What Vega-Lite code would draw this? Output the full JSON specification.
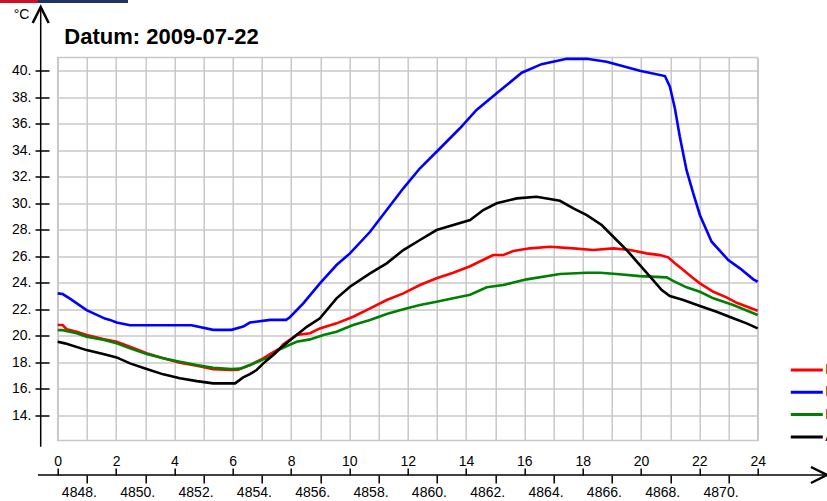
{
  "$schema": "https://vega.github.io/schema/vega-lite/v6.json",
  "width": 700,
  "height": 383,
  "autosize": {"type": "none"},
  "padding": {"left": 57.7, "top": 57.5, "right": 69.3, "bottom": 60.5},
  "background": "white",
  "config": {
    "font": "Liberation Sans",
    "view": {"stroke": "#c8c8c8", "strokeWidth": 1.5}
  },
  "title": {
    "text": "Datum: 2009-07-22",
    "anchor": "start",
    "frame": "group",
    "font": "Liberation Sans",
    "fontSize": 22,
    "fontWeight": "bold",
    "color": "#000000",
    "baseline": "alphabetic",
    "offset": 0,
    "dx": 6.6,
    "dy": 66
  },
  "datasets": {
    "temps": [
      {"s": "Büro", "h": 0, "t": 20.81}, {"s": "Büro", "h": 0.17, "t": 20.81}, {"s": "Büro", "h": 0.31, "t": 20.49},
      {"s": "Büro", "h": 0.65, "t": 20.31}, {"s": "Büro", "h": 0.99, "t": 20.06}, {"s": "Büro", "h": 1.56, "t": 19.75},
      {"s": "Büro", "h": 2.02, "t": 19.55}, {"s": "Büro", "h": 2.48, "t": 19.17}, {"s": "Büro", "h": 3.05, "t": 18.68},
      {"s": "Büro", "h": 3.62, "t": 18.3}, {"s": "Büro", "h": 4.19, "t": 17.97}, {"s": "Büro", "h": 4.77, "t": 17.74},
      {"s": "Büro", "h": 5.33, "t": 17.48}, {"s": "Büro", "h": 5.96, "t": 17.42}, {"s": "Büro", "h": 6.19, "t": 17.45},
      {"s": "Büro", "h": 6.59, "t": 17.79}, {"s": "Büro", "h": 7.05, "t": 18.3}, {"s": "Büro", "h": 7.28, "t": 18.62},
      {"s": "Büro", "h": 7.62, "t": 19.05}, {"s": "Büro", "h": 7.73, "t": 19.35}, {"s": "Büro", "h": 8.19, "t": 20.06},
      {"s": "Büro", "h": 8.65, "t": 20.19}, {"s": "Büro", "h": 8.99, "t": 20.56}, {"s": "Büro", "h": 9.56, "t": 20.94},
      {"s": "Büro", "h": 10.13, "t": 21.44}, {"s": "Büro", "h": 10.71, "t": 22.07}, {"s": "Büro", "h": 11.28, "t": 22.7},
      {"s": "Büro", "h": 11.85, "t": 23.2}, {"s": "Büro", "h": 12.42, "t": 23.83}, {"s": "Büro", "h": 12.99, "t": 24.34},
      {"s": "Büro", "h": 13.56, "t": 24.76}, {"s": "Büro", "h": 14.14, "t": 25.25}, {"s": "Büro", "h": 14.93, "t": 26.1},
      {"s": "Büro", "h": 15.28, "t": 26.1}, {"s": "Büro", "h": 15.62, "t": 26.4}, {"s": "Büro", "h": 16.19, "t": 26.6},
      {"s": "Büro", "h": 16.88, "t": 26.72}, {"s": "Büro", "h": 17.68, "t": 26.6}, {"s": "Büro", "h": 18.36, "t": 26.47},
      {"s": "Büro", "h": 19.05, "t": 26.6}, {"s": "Büro", "h": 19.63, "t": 26.47}, {"s": "Büro", "h": 20.19, "t": 26.22},
      {"s": "Büro", "h": 20.65, "t": 26.09}, {"s": "Büro", "h": 20.93, "t": 25.92}, {"s": "Büro", "h": 21.16, "t": 25.47},
      {"s": "Büro", "h": 21.45, "t": 24.96}, {"s": "Büro", "h": 21.79, "t": 24.34}, {"s": "Büro", "h": 22.02, "t": 23.96},
      {"s": "Büro", "h": 22.48, "t": 23.32}, {"s": "Büro", "h": 22.93, "t": 22.9}, {"s": "Büro", "h": 23.28, "t": 22.49},
      {"s": "Büro", "h": 24, "t": 21.89},

      {"s": "Dachboden", "h": 0, "t": 23.2}, {"s": "Dachboden", "h": 0.17, "t": 23.15}, {"s": "Dachboden", "h": 0.42, "t": 22.8},
      {"s": "Dachboden", "h": 0.99, "t": 21.94}, {"s": "Dachboden", "h": 1.62, "t": 21.3}, {"s": "Dachboden", "h": 1.79, "t": 21.2},
      {"s": "Dachboden", "h": 2.02, "t": 21.0}, {"s": "Dachboden", "h": 2.48, "t": 20.8}, {"s": "Dachboden", "h": 4.59, "t": 20.8},
      {"s": "Dachboden", "h": 5.33, "t": 20.45}, {"s": "Dachboden", "h": 5.96, "t": 20.45}, {"s": "Dachboden", "h": 6.36, "t": 20.7},
      {"s": "Dachboden", "h": 6.59, "t": 21.0}, {"s": "Dachboden", "h": 7.28, "t": 21.2}, {"s": "Dachboden", "h": 7.83, "t": 21.2},
      {"s": "Dachboden", "h": 7.96, "t": 21.4}, {"s": "Dachboden", "h": 8.42, "t": 22.45}, {"s": "Dachboden", "h": 8.99, "t": 23.96},
      {"s": "Dachboden", "h": 9.56, "t": 25.34}, {"s": "Dachboden", "h": 10.02, "t": 26.22}, {"s": "Dachboden", "h": 10.71, "t": 27.85},
      {"s": "Dachboden", "h": 11.28, "t": 29.49}, {"s": "Dachboden", "h": 11.85, "t": 31.13}, {"s": "Dachboden", "h": 12.42, "t": 32.64},
      {"s": "Dachboden", "h": 13.05, "t": 34.02}, {"s": "Dachboden", "h": 13.79, "t": 35.66}, {"s": "Dachboden", "h": 14.36, "t": 37.04},
      {"s": "Dachboden", "h": 15.05, "t": 38.3}, {"s": "Dachboden", "h": 15.91, "t": 39.85}, {"s": "Dachboden", "h": 16.59, "t": 40.5},
      {"s": "Dachboden", "h": 17.45, "t": 40.9}, {"s": "Dachboden", "h": 18.14, "t": 40.9}, {"s": "Dachboden", "h": 18.82, "t": 40.68},
      {"s": "Dachboden", "h": 19.96, "t": 40.0}, {"s": "Dachboden", "h": 20.82, "t": 39.6}, {"s": "Dachboden", "h": 20.99, "t": 38.8},
      {"s": "Dachboden", "h": 21.16, "t": 37.17}, {"s": "Dachboden", "h": 21.33, "t": 35.02}, {"s": "Dachboden", "h": 21.56, "t": 32.5},
      {"s": "Dachboden", "h": 21.79, "t": 30.75}, {"s": "Dachboden", "h": 22.02, "t": 29.1}, {"s": "Dachboden", "h": 22.42, "t": 27.1},
      {"s": "Dachboden", "h": 22.99, "t": 25.72}, {"s": "Dachboden", "h": 23.39, "t": 25.09}, {"s": "Dachboden", "h": 23.85, "t": 24.26},
      {"s": "Dachboden", "h": 24, "t": 24.08},

      {"s": "Keller", "h": 0, "t": 20.43}, {"s": "Keller", "h": 0.17, "t": 20.43}, {"s": "Keller", "h": 0.65, "t": 20.2},
      {"s": "Keller", "h": 0.99, "t": 19.93}, {"s": "Keller", "h": 1.56, "t": 19.7}, {"s": "Keller", "h": 2.02, "t": 19.43},
      {"s": "Keller", "h": 2.48, "t": 19.05}, {"s": "Keller", "h": 3.05, "t": 18.62}, {"s": "Keller", "h": 3.62, "t": 18.3},
      {"s": "Keller", "h": 4.19, "t": 18.04}, {"s": "Keller", "h": 4.77, "t": 17.79}, {"s": "Keller", "h": 5.33, "t": 17.59},
      {"s": "Keller", "h": 5.96, "t": 17.49}, {"s": "Keller", "h": 6.25, "t": 17.52}, {"s": "Keller", "h": 6.59, "t": 17.79},
      {"s": "Keller", "h": 7.05, "t": 18.22}, {"s": "Keller", "h": 7.28, "t": 18.4}, {"s": "Keller", "h": 7.62, "t": 18.98},
      {"s": "Keller", "h": 7.73, "t": 19.1}, {"s": "Keller", "h": 8.19, "t": 19.55}, {"s": "Keller", "h": 8.65, "t": 19.73},
      {"s": "Keller", "h": 9.11, "t": 20.06}, {"s": "Keller", "h": 9.56, "t": 20.31}, {"s": "Keller", "h": 10.13, "t": 20.81},
      {"s": "Keller", "h": 10.71, "t": 21.19}, {"s": "Keller", "h": 11.28, "t": 21.64}, {"s": "Keller", "h": 11.85, "t": 22.0},
      {"s": "Keller", "h": 12.42, "t": 22.32}, {"s": "Keller", "h": 12.99, "t": 22.57}, {"s": "Keller", "h": 13.56, "t": 22.83},
      {"s": "Keller", "h": 14.14, "t": 23.1}, {"s": "Keller", "h": 14.71, "t": 23.66}, {"s": "Keller", "h": 15.28, "t": 23.83},
      {"s": "Keller", "h": 16.08, "t": 24.26}, {"s": "Keller", "h": 17.22, "t": 24.66}, {"s": "Keller", "h": 18.14, "t": 24.76},
      {"s": "Keller", "h": 18.59, "t": 24.76}, {"s": "Keller", "h": 19.16, "t": 24.66}, {"s": "Keller", "h": 19.96, "t": 24.5},
      {"s": "Keller", "h": 20.88, "t": 24.41}, {"s": "Keller", "h": 21.1, "t": 24.15}, {"s": "Keller", "h": 21.56, "t": 23.66},
      {"s": "Keller", "h": 22.02, "t": 23.32}, {"s": "Keller", "h": 22.48, "t": 22.83}, {"s": "Keller", "h": 23.16, "t": 22.32},
      {"s": "Keller", "h": 24, "t": 21.57},

      {"s": "Außen", "h": 0, "t": 19.55}, {"s": "Außen", "h": 0.25, "t": 19.43}, {"s": "Außen", "h": 0.99, "t": 18.92},
      {"s": "Außen", "h": 1.56, "t": 18.62}, {"s": "Außen", "h": 2.02, "t": 18.37}, {"s": "Außen", "h": 2.48, "t": 17.92},
      {"s": "Außen", "h": 3.05, "t": 17.49}, {"s": "Außen", "h": 3.62, "t": 17.09}, {"s": "Außen", "h": 4.19, "t": 16.79},
      {"s": "Außen", "h": 4.77, "t": 16.58}, {"s": "Außen", "h": 5.33, "t": 16.41}, {"s": "Außen", "h": 6.08, "t": 16.41},
      {"s": "Außen", "h": 6.36, "t": 16.86}, {"s": "Außen", "h": 6.59, "t": 17.11}, {"s": "Außen", "h": 6.82, "t": 17.42},
      {"s": "Außen", "h": 7.05, "t": 17.92}, {"s": "Außen", "h": 7.39, "t": 18.55}, {"s": "Außen", "h": 7.62, "t": 19.05},
      {"s": "Außen", "h": 8.19, "t": 20.06}, {"s": "Außen", "h": 8.54, "t": 20.68}, {"s": "Außen", "h": 8.99, "t": 21.32},
      {"s": "Außen", "h": 9.56, "t": 22.83}, {"s": "Außen", "h": 10.02, "t": 23.7}, {"s": "Außen", "h": 10.71, "t": 24.71},
      {"s": "Außen", "h": 11.28, "t": 25.47}, {"s": "Außen", "h": 11.85, "t": 26.47}, {"s": "Außen", "h": 12.42, "t": 27.23},
      {"s": "Außen", "h": 12.99, "t": 27.98}, {"s": "Außen", "h": 13.45, "t": 28.28}, {"s": "Außen", "h": 14.14, "t": 28.74},
      {"s": "Außen", "h": 14.59, "t": 29.49}, {"s": "Außen", "h": 15.05, "t": 30.0}, {"s": "Außen", "h": 15.74, "t": 30.37},
      {"s": "Außen", "h": 16.42, "t": 30.49}, {"s": "Außen", "h": 17.22, "t": 30.19}, {"s": "Außen", "h": 17.68, "t": 29.62},
      {"s": "Außen", "h": 18.14, "t": 29.11}, {"s": "Außen", "h": 18.65, "t": 28.36}, {"s": "Außen", "h": 19.16, "t": 27.23},
      {"s": "Außen", "h": 19.51, "t": 26.47}, {"s": "Außen", "h": 19.96, "t": 25.34}, {"s": "Außen", "h": 20.31, "t": 24.46},
      {"s": "Außen", "h": 20.71, "t": 23.45}, {"s": "Außen", "h": 20.99, "t": 23.0}, {"s": "Außen", "h": 21.45, "t": 22.7},
      {"s": "Außen", "h": 22.02, "t": 22.25}, {"s": "Außen", "h": 22.59, "t": 21.82}, {"s": "Außen", "h": 23.16, "t": 21.32},
      {"s": "Außen", "h": 23.62, "t": 20.94}, {"s": "Außen", "h": 24, "t": 20.56}
    ]
  },
  "layer": [
    {
      "data": {"name": "temps"},
      "mark": {"type": "line", "strokeWidth": 2.6},
      "encoding": {
        "x": {
          "field": "h", "type": "quantitative",
          "scale": {"domain": [0, 24], "nice": false, "zero": false},
          "axis": {"orient": "bottom", "values": [0,1,2,3,4,5,6,7,8,9,10,11,12,13,14,15,16,17,18,19,20,21,22,23,24],
                   "grid": true, "gridColor": "#c8c8c8", "gridWidth": 1.5,
                   "domain": false, "ticks": false, "labels": false, "title": null}
        },
        "y": {
          "field": "t", "type": "quantitative",
          "scale": {"domain": [12.1, 41], "nice": false, "zero": false},
          "axis": {"orient": "left", "values": [14,16,18,20,22,24,26,28,30,32,34,36,38,40],
                   "grid": true, "gridColor": "#c8c8c8", "gridWidth": 1.5,
                   "domain": false, "ticks": false, "labels": false, "title": null}
        },
        "color": {
          "field": "s", "type": "nominal",
          "scale": {"domain": ["Büro", "Dachboden", "Keller", "Außen"],
                    "range": ["#ff0000", "#0000ff", "#008000", "#000000"]},
          "legend": {
            "orient": "none", "legendX": 731.6, "legendY": 302.5,
            "title": null, "symbolType": "stroke", "symbolSize": 1024, "symbolStrokeWidth": 3,
            "labelFont": "Liberation Sans", "labelFontSize": 14, "labelColor": "#000000",
            "labelOffset": 1, "padding": 0, "rowPadding": 2.3, "clipHeight": 20
          }
        }
      }
    },
    {
      "data": {"values": [{}]},
      "mark": {"type": "rule", "color": "#000000", "strokeWidth": 1.5},
      "encoding": {
        "x": {"datum": -0.583, "type": "quantitative", "scale": {"domain": [0, 24], "nice": false, "zero": false}, "axis": null},
        "y": {
          "datum": 11.63, "type": "quantitative",
          "scale": {"domain": [12.1, 41], "nice": false, "zero": false},
          "axis": {"orient": "left", "offset": 8.7, "values": [14,16,18,20,22,24,26,28,30,32,34,36,38,40],
                   "domain": false, "grid": false, "tickSize": 14, "tickWidth": 1.5, "tickColor": "#000000",
                   "labelExpr": "datum.value + '.'", "labelFont": "Liberation Sans", "labelFontSize": 14,
                   "labelColor": "#000000", "labelPadding": 4, "labelFlush": false, "labelOverlap": false,
                   "title": "°C", "titleAngle": 0, "titleFont": "Liberation Sans", "titleFontSize": 14,
                   "titleFontWeight": "normal", "titleColor": "#000000", "titleAlign": "center",
                   "titleBaseline": "middle", "titleX": -28, "titleY": -43.5}
        },
        "y2": {"datum": 44.81}
      }
    },
    {
      "data": {"values": [{}]},
      "mark": {"type": "rule", "color": "#000000", "strokeWidth": 1.5},
      "encoding": {
        "x": {
          "datum": -0.675, "type": "quantitative",
          "scale": {"domain": [0, 24], "nice": false, "zero": false},
          "axis": {"orient": "top", "offset": -417.5, "values": [0,2,4,6,8,10,12,14,16,18,20,22,24],
                   "domain": false, "grid": false, "tickSize": 7, "tickWidth": 1.5, "tickColor": "#000000",
                   "labelFont": "Liberation Sans", "labelFontSize": 14, "labelColor": "#000000",
                   "labelPadding": 0, "labelFlush": false, "labelOverlap": false, "title": null}
        },
        "x2": {"datum": 26.3},
        "y": {"datum": 9.497, "type": "quantitative", "scale": {"domain": [12.1, 41], "nice": false, "zero": false}, "axis": null}
      }
    },
    {
      "data": {"values": [{}]},
      "mark": {"type": "point", "shape": "M-1,-1L1,0L-1,1", "filled": false, "color": "#000000", "strokeWidth": 2.5, "size": 256, "opacity": 1},
      "encoding": {
        "x": {
          "datum": 26.1, "type": "quantitative",
          "scale": {"domain": [0, 24], "nice": false, "zero": false},
          "axis": {"orient": "bottom", "offset": 34.5, "values": [1,3,5,7,9,11,13,15,17,19,21,23],
                   "domain": false, "grid": false, "tickSize": 8, "tickWidth": 1.5, "tickColor": "#000000",
                   "labelExpr": "(datum.value + 4847) + '.'", "labelFont": "Liberation Sans", "labelFontSize": 14,
                   "labelColor": "#000000", "labelPadding": 2, "labelOffset": -8,
                   "labelFlush": false, "labelOverlap": false, "title": null}
        },
        "y": {"datum": 9.497, "type": "quantitative", "scale": {"domain": [12.1, 41], "nice": false, "zero": false}, "axis": null}
      }
    },
    {
      "data": {"values": [{}]},
      "mark": {"type": "point", "shape": "M-1,1L0,-1L1,1", "filled": false, "color": "#000000", "strokeWidth": 2.5, "size": 256, "opacity": 1},
      "encoding": {
        "x": {"datum": -0.583, "type": "quantitative", "scale": {"domain": [0, 24], "nice": false, "zero": false}, "axis": null},
        "y": {"datum": 44.21, "type": "quantitative", "scale": {"domain": [12.1, 41], "nice": false, "zero": false}, "axis": null}
      }
    },
    {
      "data": {"values": [{}]},
      "mark": {"type": "rect", "color": "#cc1126"},
      "encoding": {
        "x": {"datum": -1.978, "type": "quantitative", "scale": {"domain": [0, 24], "nice": false, "zero": false}, "axis": null},
        "x2": {"datum": -0.675},
        "y": {"datum": 45.339, "type": "quantitative", "scale": {"domain": [12.1, 41], "nice": false, "zero": false}, "axis": null},
        "y2": {"datum": 45.113}
      }
    },
    {
      "data": {"values": [{}]},
      "mark": {"type": "rect", "color": "#1f3366"},
      "encoding": {
        "x": {"datum": -0.675, "type": "quantitative", "scale": {"domain": [0, 24], "nice": false, "zero": false}, "axis": null},
        "x2": {"datum": 2.41},
        "y": {"datum": 45.339, "type": "quantitative", "scale": {"domain": [12.1, 41], "nice": false, "zero": false}, "axis": null},
        "y2": {"datum": 45.113}
      }
    }
  ],
  "resolve": {"axis": {"x": "independent", "y": "independent"}}
}
